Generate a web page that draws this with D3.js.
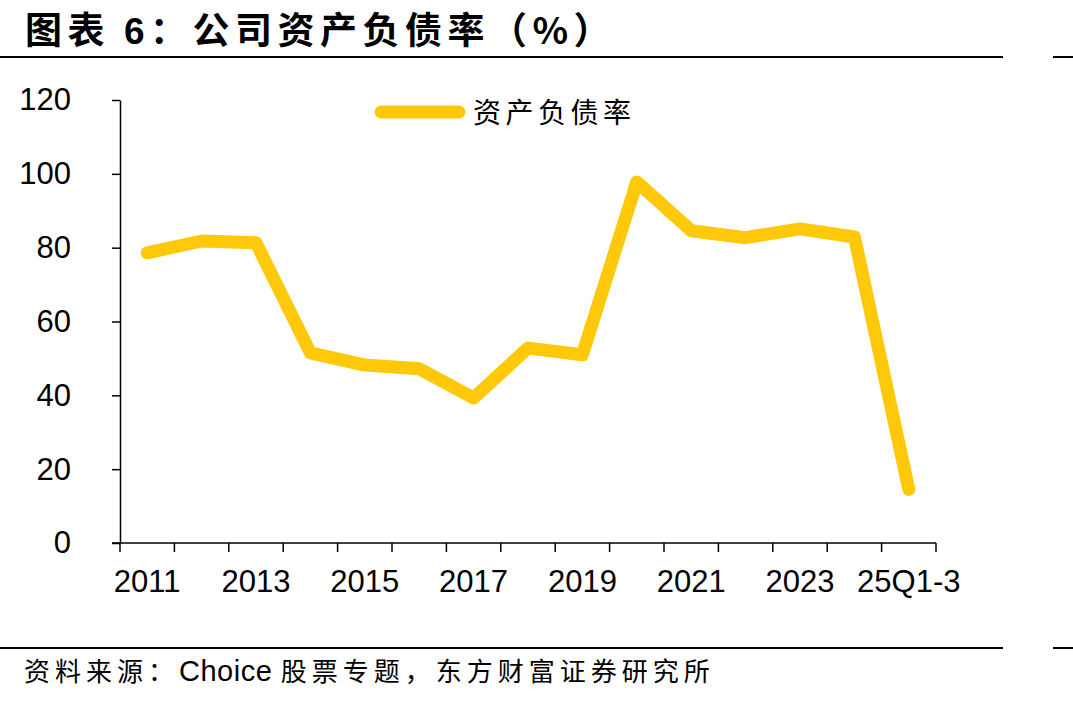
<!DOCTYPE html>
<html>
<head>
<meta charset="utf-8">
<script src="https://cdn.jsdelivr.net/npm/d3@7"></script>
<style>
    body { margin: 0; background: #fff; }
    svg { display: block; }
</style>
</head>
<body>
<div id="chart"></div>
<script>
// categories and values
const categories = ["2011", "2012", "2013", "2014", "2015", "2016", "2017", "2018",
    "2019", "2020", "2021", "2022", "2023", "2024", "25Q1-3"];
const debtRatio = [78.6, 81.8, 81.3, 51.5, 48.2, 47.2, 39.3, 52.8,
    51.0, 97.8, 84.6, 82.7, 85.1, 82.9, 14.5];
const yTicks = [0, 20, 40, 60, 80, 100, 120];
const shownLabels = ["2011", "2013", "2015", "2017", "2019", "2021", "2023", "25Q1-3"];

const width = 1073, height = 701;
const lineColor = "#ffc90a";
const numFont = "'Liberation Sans', Arial, sans-serif";
const cjkFont = "'Noto Sans CJK SC', sans-serif";

const svg = d3.select("#chart").append("svg")
    .attr("width", width)
    .attr("height", height);

// title + rules
const title = svg.append("text")
    .attr("x", 25).attr("y", 44)
    .attr("font-family", cjkFont)
    .attr("font-weight", 700)
    .attr("font-size", 37)
    .attr("letter-spacing", 5.5)
    .attr("fill", "#000");
title.append("tspan").text("图表 ");
title.append("tspan").attr("font-family", numFont).attr("font-size", 37).text("6");
title.append("tspan").text("：公司资产负债率（%）");

[[0, 1003, 57], [1053, 1073, 57], [0, 1003, 648], [1053, 1073, 648]].forEach(([x1, x2, y]) => {
    svg.append("line")
        .attr("x1", x1).attr("x2", x2).attr("y1", y).attr("y2", y)
        .attr("stroke", "#000").attr("stroke-width", 2);
});

const source = svg.append("text")
    .attr("x", 24).attr("y", 681)
    .attr("font-family", cjkFont)
    .attr("font-size", 26)
    .attr("letter-spacing", 5)
    .attr("fill", "#000");
source.append("tspan").text("资料来源：");
source.append("tspan").attr("font-family", numFont).attr("font-size", 29).attr("letter-spacing", 0.5).text("Choice ");
source.append("tspan").text("股票专题，东方财富证券研究所");

// scales
const x = d3.scaleBand().domain(categories).range([120, 936]);
const y = d3.scaleLinear().domain([0, 120]).range([543, 100]);

// y axis
const yAxis = svg.append("g")
    .attr("transform", "translate(120,0)")
    .call(d3.axisLeft(y).tickValues(yTicks).tickSize(8).tickSizeOuter(0).tickPadding(41));
yAxis.select(".domain").attr("stroke", "#000").attr("stroke-width", 1.5);
yAxis.selectAll(".tick line").attr("stroke", "#000").attr("stroke-width", 1.5);
yAxis.selectAll(".tick text")
    .attr("font-family", numFont)
    .attr("font-size", 31)
    .attr("fill", "#000");

// x axis: line, boundary ticks, every other label
const xAxis = svg.append("g").attr("transform", `translate(0,${y(0)})`);
xAxis.append("line")
    .attr("x1", 112).attr("x2", x.range()[1])
    .attr("stroke", "#000").attr("stroke-width", 1.5);
const bounds = categories.map((c) => x(c)).concat([x.range()[1]]);
xAxis.selectAll(".xtick").data(bounds).join("line")
    .attr("class", "xtick")
    .attr("x1", (d) => d).attr("x2", (d) => d)
    .attr("y1", 0).attr("y2", 9)
    .attr("stroke", "#000").attr("stroke-width", 1.5);
xAxis.selectAll(".xlabel").data(shownLabels).join("text")
    .attr("class", "xlabel")
    .attr("x", (d) => x(d) + x.bandwidth() / 2)
    .attr("y", 49)
    .attr("text-anchor", "middle")
    .attr("font-family", numFont)
    .attr("font-size", 31)
    .attr("fill", "#000")
    .text((d) => d);

// line
const series = categories.map((c, i) => ({ cat: c, value: debtRatio[i] }));
const line = d3.line()
    .x((d) => x(d.cat) + x.bandwidth() / 2)
    .y((d) => y(d.value));
svg.append("path")
    .datum(series)
    .attr("d", line)
    .attr("fill", "none")
    .attr("stroke", lineColor)
    .attr("stroke-width", 13)
    .attr("stroke-linejoin", "round")
    .attr("stroke-linecap", "round");

// legend
const legend = svg.append("g").attr("transform", "translate(381,112)");
legend.append("line")
    .attr("x1", 0).attr("x2", 78)
    .attr("stroke", lineColor)
    .attr("stroke-width", 13)
    .attr("stroke-linecap", "round");
legend.append("text")
    .attr("x", 92).attr("y", 11)
    .attr("font-family", cjkFont)
    .attr("font-size", 28)
    .attr("letter-spacing", 4.5)
    .attr("fill", "#000")
    .text("资产负债率");
</script>
</body>
</html>
